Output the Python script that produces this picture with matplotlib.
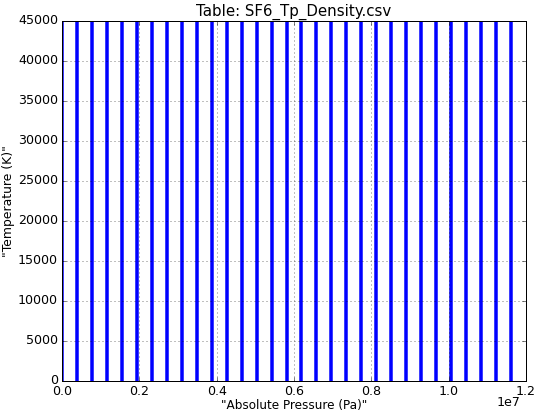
import numpy as np
import matplotlib
matplotlib.use('Agg')
import matplotlib.pyplot as plt

# pressure columns in the table (Pa), each spans the full temperature range
pressure = [i * 1.2e7 / 31 for i in range(31)]
temperature = [0.0, 45000.0]

plt.style.use('classic')

fig = plt.figure(figsize=(537 / 72.0, 411 / 72.0), dpi=72)
ax = fig.add_axes([62 / 537.0, 30 / 411.0, 464 / 537.0, 360 / 411.0])

for p in pressure:
    ax.plot([p, p], temperature, color='b', lw=3.5)

ax.set_xlim(0, 1.2e7)
ax.set_ylim(0, 45000)
ax.grid(True)
ax.tick_params(labelsize=12.6)
ax.set_title('Table: SF6_Tp_Density.csv', fontsize=15)
ax.set_xlabel('"Absolute Pressure (Pa)"', fontsize=12, labelpad=0.5)
ax.set_ylabel('"Temperature (K)"', fontsize=12.4)
ax.yaxis.set_label_coords(-0.102, 0.5)

# offset text placed by hand, matplotlib puts it too low here
ax.xaxis.get_offset_text().set_visible(False)
ax.text(0.963, -0.061, '1e7', transform=ax.transAxes, ha='center', va='center',
        fontsize=12.6)

fig.savefig('out.png', dpi=72)
